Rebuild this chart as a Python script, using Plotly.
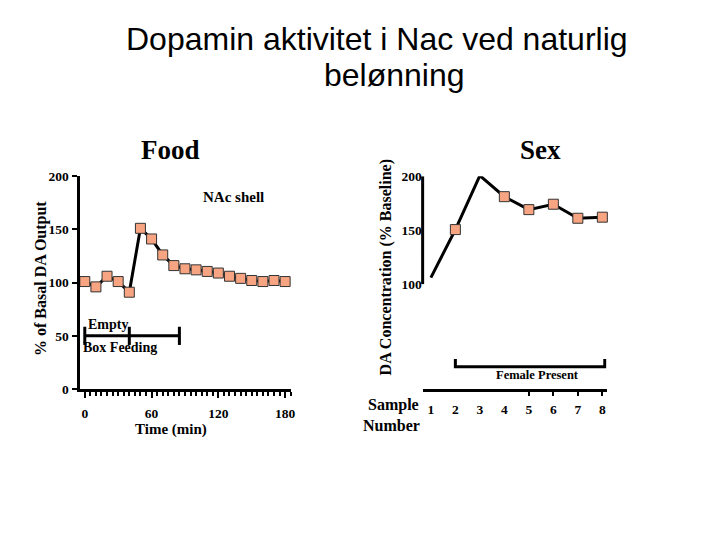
import plotly.graph_objects as go

# ---------------- data ----------------
food_time = [0, 10, 20, 30, 40, 50, 60, 70, 80, 90, 100, 110, 120, 130, 140, 150, 160, 170, 180]
food_da = [101, 96, 106, 101, 91, 151, 141, 126, 116, 113, 112, 110.5, 109, 106, 104, 102, 101, 102, 101]
food_xticks = [0, 60, 120, 180]
food_yticks = [0, 50, 100, 150, 200]
phase_x = [0, 40, 85]          # Empty box -> Feeding -> end
phase_y = 50

sex_sample = [1, 2, 3, 4, 5, 6, 7, 8]
sex_da = [106, 150.5, 200.5, 181, 169, 174, 161, 162]
sex_yticks = [100, 150, 200]
female_x = [2, 8.1]
female_y = [23.5, 30.5]

marker_color = "#F6A482"
serif = "Liberation Serif"
sans = "Liberation Sans"

W, H = 720, 540
def px(x): return x / W
def py(y): return 1 - y / H

fig = go.Figure()

# Food panel
fig.add_trace(go.Scatter(
    x=food_time, y=food_da, mode="lines+markers", xaxis="x", yaxis="y",
    line=dict(color="black", width=3),
    marker=dict(symbol="square", size=10, color=marker_color,
                line=dict(color="#333333", width=1)),
    cliponaxis=False, showlegend=False, hoverinfo="skip"))
fig.add_trace(go.Scatter(
    x=phase_x, y=[phase_y] * len(phase_x), mode="lines+markers", xaxis="x", yaxis="y",
    line=dict(color="black", width=3),
    marker=dict(symbol="line-ns", size=13, line=dict(color="black", width=3)),
    cliponaxis=False, showlegend=False, hoverinfo="skip"))

# Sex panel
fig.add_trace(go.Scatter(
    x=sex_sample, y=sex_da, mode="lines", xaxis="x2", yaxis="y2",
    line=dict(color="black", width=3),
    cliponaxis=False, showlegend=False, hoverinfo="skip"))
fig.add_trace(go.Scatter(
    x=sex_sample[1:], y=sex_da[1:], mode="markers", xaxis="x2", yaxis="y2",
    marker=dict(symbol="square", size=10, color=marker_color,
                line=dict(color="#333333", width=1)),
    cliponaxis=False, showlegend=False, hoverinfo="skip"))
fig.add_trace(go.Scatter(
    x=[female_x[0], female_x[0], female_x[1], female_x[1]],
    y=[female_y[1], female_y[0], female_y[0], female_y[1]],
    mode="lines", xaxis="x2", yaxis="y2",
    line=dict(color="black", width=3),
    cliponaxis=False, showlegend=False, hoverinfo="skip"))

tickfont = dict(family=serif, size=13.5, color="black", weight="bold")

fig.update_layout(
    width=W, height=H,
    margin=dict(l=0, r=0, t=0, b=0),
    paper_bgcolor="white", plot_bgcolor="white",
    xaxis=dict(domain=[px(80), px(293)], range=[-4.7, 185.6],
               tickvals=food_xticks, ticks="outside", ticklen=6, tickwidth=2,
               tickcolor="black", showline=True, linecolor="black", linewidth=3,
               showgrid=False, zeroline=False, tickfont=tickfont,
               ticklabelstandoff=4,
               minor=dict(dtick=5, tick0=0, ticks="outside", ticklen=4,
                          tickwidth=2, tickcolor="black", showgrid=False)),
    yaxis=dict(domain=[py(393), py(174)], range=[0, 200],
               tickvals=food_yticks, ticks="outside", ticklen=5, tickwidth=2,
               tickcolor="black", showline=True, linecolor="black", linewidth=3,
               showgrid=False, zeroline=False, tickfont=tickfont),
    xaxis2=dict(domain=[px(425), px(610)], range=[0.663, 8.175], anchor="y2",
                tickvals=sex_sample, ticks="", showline=True, linecolor="black",
                linewidth=3, showgrid=False, zeroline=False, tickfont=tickfont,
                ticklabelstandoff=6,
                minor=dict(tickvals=sex_sample[4:], ticks="outside", ticklen=4,
                           tickwidth=2, tickcolor="black", showgrid=False)),
    yaxis2=dict(domain=[py(393), py(174)], range=[2.7, 200], anchor="x2",
                tickvals=sex_yticks, ticks="", showline=False,
                showgrid=False, zeroline=False, tickfont=tickfont,
                ticklabelstandoff=0),
)

# right y-axis line only spans the labelled range
fig.add_shape(type="line", xref="x2 domain", yref="y2", x0=0, x1=0,
              y0=sex_yticks[0], y1=sex_yticks[-1],
              line=dict(color="black", width=3))

def ann(text, x, y, size, family=serif, bold=True, angle=0, xanchor="center"):
    fig.add_annotation(text=text, x=px(x), y=py(y), xref="paper", yref="paper",
                       showarrow=False, textangle=angle, xanchor=xanchor,
                       yanchor="middle",
                       font=dict(family=family, size=size, color="black",
                                 weight="bold" if bold else "normal"))

ann("Dopamin aktivitet i Nac ved naturlig", 379, 33, 32, family=sans, bold=False)
ann("belønning", 397, 70, 32, family=sans, bold=False)
ann("Food", 171, 147, 27)
ann("Sex", 544, 147, 27)
ann("NAc shell", 235, 195, 15)
ann("Empty", 86, 327, 14, xanchor="left")
ann("Box Feeding", 81, 350, 14, xanchor="left")
ann("Time (min)", 172, 435, 15)
ann("% of Basal DA Output", 41, 279, 16, angle=-90)
ann("DA Concentration (% Baseline)", 388, 268, 16, angle=-90)
ann("Female Present", 541, 378, 12.5)
ann("Sample", 396, 409, 16)
ann("Number", 394, 430, 16)

fig.write_html("out.html", config={"displayModeBar": False},
               post_script="document.body.style.margin='0px';")
